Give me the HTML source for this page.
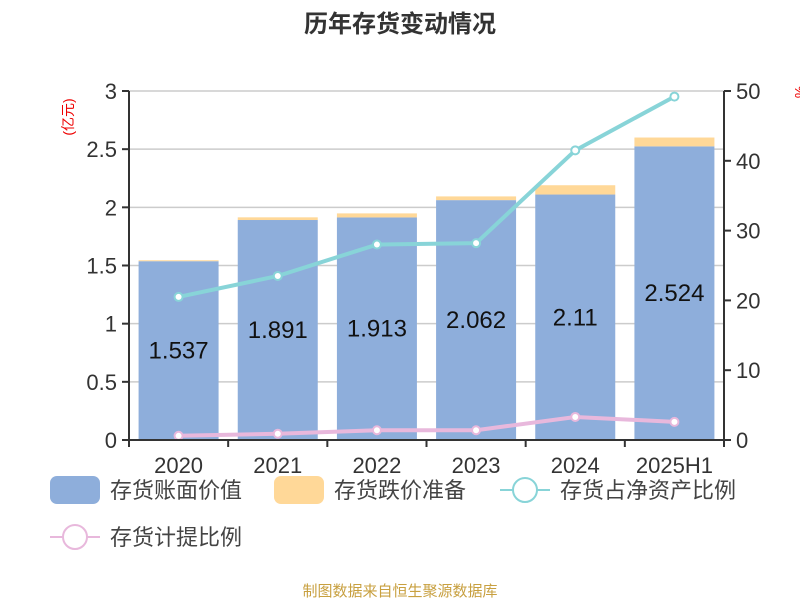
<!DOCTYPE html>
<html><head><meta charset="utf-8"><style>
body{margin:0;background:#fff;}
svg text{font-family:"Liberation Sans","Noto Sans CJK SC",sans-serif;}
</style></head><body>
<svg id="chart" width="800" height="600" xmlns="http://www.w3.org/2000/svg">
<text x="400" y="32" text-anchor="middle" font-size="24" font-weight="bold" fill="#333">历年存货变动情况</text>
<text transform="translate(73,117) rotate(-90)" text-anchor="middle" font-size="14" fill="#e00">(亿元)</text>
<text transform="translate(795,92) rotate(90)" text-anchor="middle" font-size="14" fill="#e00">%</text>
<g id="grid"></g><g id="bars"></g><g id="lines"></g><g id="axes"></g>
<g>
<rect x="50" y="476" width="50" height="28" rx="7" fill="#8eaedb"/>
<text x="110" y="498" font-size="22" fill="#444">存货账面价值</text>
<rect x="274" y="476" width="50" height="28" rx="7" fill="#ffd898"/>
<text x="334" y="498" font-size="22" fill="#444">存货跌价准备</text>
<line x1="500" y1="490" x2="550" y2="490" stroke="#88d4d8" stroke-width="2"/>
<circle cx="525" cy="490" r="12" fill="#fff" stroke="#88d4d8" stroke-width="2"/>
<text x="560" y="498" font-size="22" fill="#444">存货占净资产比例</text>
<line x1="50" y1="537" x2="100" y2="537" stroke="#e8b8dc" stroke-width="2"/>
<circle cx="75" cy="537" r="12" fill="#fff" stroke="#e8b8dc" stroke-width="2"/>
<text x="110" y="545" font-size="22" fill="#444">存货计提比例</text>
</g>
<text x="400" y="596" text-anchor="middle" font-size="15" fill="#c8a040">制图数据来自恒生聚源数据库</text>
</svg>
<script>
const categories=["2020","2021","2022","2023","2024","2025H1"];
const bookValue=[1.537,1.891,1.913,2.062,2.11,2.524];
const reserve=[0.008,0.023,0.035,0.032,0.08,0.076];
const netAssetRatio=[20.5,23.5,28.0,28.2,41.5,49.2];
const provisionRatio=[0.6,0.9,1.4,1.4,3.3,2.6];
const leftTicks=[0,0.5,1,1.5,2,2.5,3];
const rightTicks=[0,10,20,30,40,50];
const NS="http://www.w3.org/2000/svg";
const X0=129,X1=724,Y0=440,Y1=91;
const bw=(X1-X0)/categories.length;
const yL=v=>Y0-(v/3)*(Y0-Y1);
const yR=v=>Y0-(v/50)*(Y0-Y1);
const xc=i=>X0+bw*(i+0.5);
function mk(tag,attrs,parent,text){const e=document.createElementNS(NS,tag);for(const k in attrs)e.setAttribute(k,attrs[k]);if(text!==undefined)e.textContent=text;document.getElementById(parent).appendChild(e);return e;}
leftTicks.forEach(t=>{
 const g=mk('line',{x1:X0,x2:X1,y1:yL(t),y2:yL(t),stroke:'#ccc','stroke-width':1.5},'grid');
 
 
 const tk=mk('line',{x1:X0-7,x2:X0,y1:yL(t),y2:yL(t),stroke:'#333','stroke-width':2},'axes');
 
 
 const l=mk('text',{x:X0-12,y:yL(t)+8,'text-anchor':'end','font-size':22,fill:'#333'},'axes',String(t));
 
 
});
rightTicks.forEach(t=>{
 const tk=mk('line',{x1:X1,x2:X1+7,y1:yR(t),y2:yR(t),stroke:'#333','stroke-width':2},'axes');
 
 
 const l=mk('text',{x:X1+12,y:yR(t)+8,'font-size':22,fill:'#333'},'axes',String(t));
 
 
});
let a=mk('line',{x1:X0,x2:X0,y1:Y1,y2:Y0,stroke:'#333','stroke-width':2},'axes');


a=mk('line',{x1:X1,x2:X1,y1:Y1,y2:Y0,stroke:'#333','stroke-width':2},'axes');


a=mk('line',{x1:X0,x2:X1,y1:Y0,y2:Y0,stroke:'#333','stroke-width':2},'axes');


for(let i=0;i<=categories.length;i++){
 const tk=mk('line',{x1:X0+bw*i,x2:X0+bw*i,y1:Y0,y2:Y0+7,stroke:'#333','stroke-width':2},'axes');
 
 
}
categories.forEach((c,i)=>{
 const l=mk('text',{x:xc(i),y:Y0+33,'text-anchor':'middle','font-size':22,fill:'#333'},'axes',c);
 
 
 const w=80,x=xc(i)-w/2;
 const b=mk('rect',{x:x,y:yL(bookValue[i]),width:w,height:Y0-yL(bookValue[i]),fill:'#8eaedb'},'bars');
 
 
 const r=mk('rect',{x:x,y:yL(bookValue[i]+reserve[i]),width:w,height:yL(bookValue[i])-yL(bookValue[i]+reserve[i]),fill:'#ffd898'},'bars');
 
 
 const v=mk('text',{x:xc(i),y:(yL(bookValue[i])+Y0)/2+8,'text-anchor':'middle','font-size':24,fill:'#111'},'bars',String(bookValue[i]));
 
 
});
function series(vals,color,name){
 const p=mk('polyline',{points:vals.map((v,i)=>xc(i)+','+yR(v)).join(' '),fill:'none',stroke:color,'stroke-width':4},'lines');
 
 
 vals.forEach((v,i)=>{
  const c=mk('circle',{cx:xc(i),cy:yR(v),r:4,fill:'#fff',stroke:color,'stroke-width':2},'lines');
  
  
 });
}
series(netAssetRatio,'#88d4d8','net-asset-ratio');
series(provisionRatio,'#e8b8dc','provision-ratio');
</script>
</body></html>
